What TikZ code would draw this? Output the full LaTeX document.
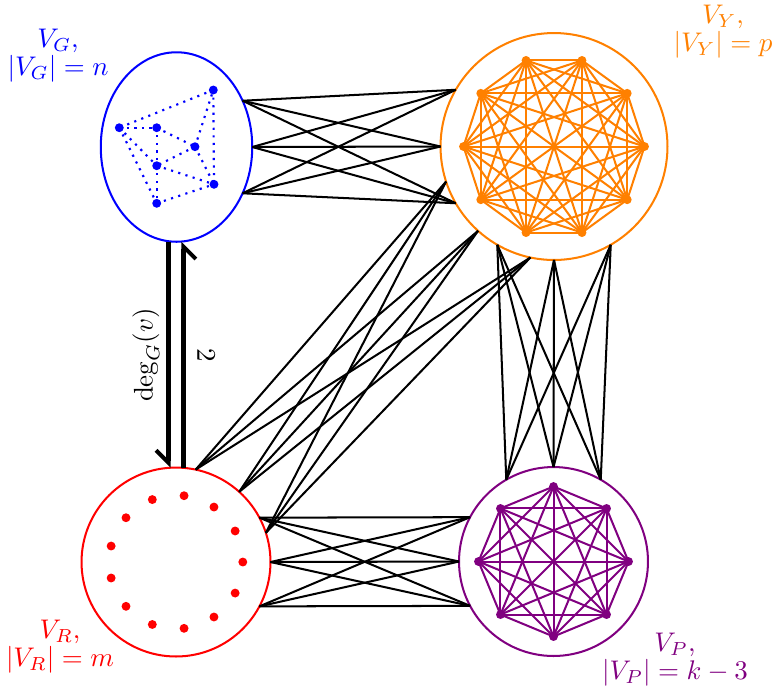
\documentclass[tikz,border=0pt]{standalone}
\usetikzlibrary{shapes.geometric,arrows.meta,calc}
\definecolor{vyorange}{RGB}{255,128,0}
\definecolor{vppurple}{RGB}{128,0,128}
\begin{document}
\begin{tikzpicture}[x=0.371pt,y=-0.371pt,
  conn/.style={line width=0.75pt, black},
  setbound/.style={line width=0.75pt, inner sep=0pt, outer sep=0pt},
  dotv/.style={circle, fill, inner sep=0pt, minimum size=3.3pt},
  kedge/.style={line width=0.75pt},
  setlabel/.style={align=center, inner sep=0pt},
  degarrow/.style={line width=1.5pt, -{Straight Barb[harpoon,swap,length=4.6pt,width=9.2pt]}}]
\path[use as bounding box] (0,0) rectangle (775,689);

% set boundaries
\node[setbound, draw=blue, ellipse, minimum width=56.2pt, minimum height=70.3pt] (G) at (176.5,147) {};
\node[setbound, draw=vyorange, circle, minimum size=84.2pt] (Y) at (554,146.5) {};
\node[setbound, draw=red, circle, minimum size=70.1pt] (R) at (176,562) {};
\node[setbound, draw=vppurple, circle, minimum size=70.1pt] (P) at (553.5,561.5) {};

% G inner graph
\begin{scope}[blue]
\node[dotv] (ga) at (213.3,90) {};
\node[dotv] (gb) at (119.3,127.7) {};
\node[dotv] (gc) at (156.7,127.7) {};
\node[dotv] (gd) at (195,146.7) {};
\node[dotv] (ge) at (156.7,165.7) {};
\node[dotv] (gf) at (214,184.3) {};
\node[dotv] (gh) at (156.7,203.3) {};
\foreach \u/\v in {ga/gb,gb/gc,gb/ge,gb/gh,gc/ge,ge/gh,gc/gd,gd/ge,gd/ga,ga/gf,ge/gf,gh/gf,gd/gf}
  \draw[line width=0.8pt, dotted] (\u.center) -- (\v.center);
\end{scope}

% Y: complete graph K10
\foreach \i in {0,...,9}
  \node[dotv, vyorange] (y\i) at ($(Y.center)+(\i*36:90.5)$) {};
\foreach \i in {0,...,8}{
  \pgfmathtruncatemacro\ni{\i+1}
  \foreach \j in {\ni,...,9}
    \draw[kedge, vyorange] (y\i.center) -- (y\j.center);
}

% P: complete graph K8
\foreach \i in {0,...,7}
  \node[dotv, vppurple] (p\i) at ($(P.center)+(90+\i*45:75)$) {};
\foreach \i in {0,...,6}{
  \pgfmathtruncatemacro\ni{\i+1}
  \foreach \j in {\ni,...,7}
    \draw[kedge, vppurple] (p\i.center) -- (p\j.center);
}

% R: isolated vertices
\foreach \i in {0,...,12}
  \node[dotv, red] (r\i) at ($(R.center)+(\i*360/13:66.8)$) {};

% connectors between sets
\foreach \a in {35,0,325}
  \foreach \b in {150,180,210}
    \draw[conn] (G.\a) -- (Y.\b);
\foreach \a in {18,48,78}
  \foreach \b in {198,228,258}
    \draw[conn] (R.\a) -- (Y.\b);
\foreach \a in {240,270,300}
  \foreach \b in {60,90,120}
    \draw[conn] (Y.\a) -- (P.\b);
\foreach \a in {28,0,332}
  \foreach \b in {152,180,208}
    \draw[conn] (R.\a) -- (P.\b);

% arrows between G and R
\coordinate (gdown) at ($(G.south)+(-8,0)$);
\coordinate (rdown) at ($(R.north)+(-7.5,0)$);
\coordinate (rup) at ($(R.north)+(7.5,0)$);
\coordinate (gup) at ($(G.south)+(7,0)$);
\draw[degarrow] (gdown) -- (rdown);
\draw[degarrow] (rup) -- (gup);
\node[rotate=90] (deglab) at (146,355) {$\deg_G(v)$};
\node[rotate=-90] (twolab) at (206,355) {$2$};

% set labels
\node[setlabel, blue] (lG) at (58,56) {$V_G$,\\[-1.6pt]$|V_G| = n$};
\node[setlabel, vyorange] (lY) at (723,32) {$V_Y$,\\[-1.6pt]$|V_Y| = p$};
\node[setlabel, red] (lR) at (60,647) {$V_R$,\\[-1.6pt]$|V_R| = m$};
\node[setlabel, vppurple] (lP) at (675,660) {$V_P$,\\[-1.6pt]$|V_P| = k-3$};
\end{tikzpicture}
\end{document}
